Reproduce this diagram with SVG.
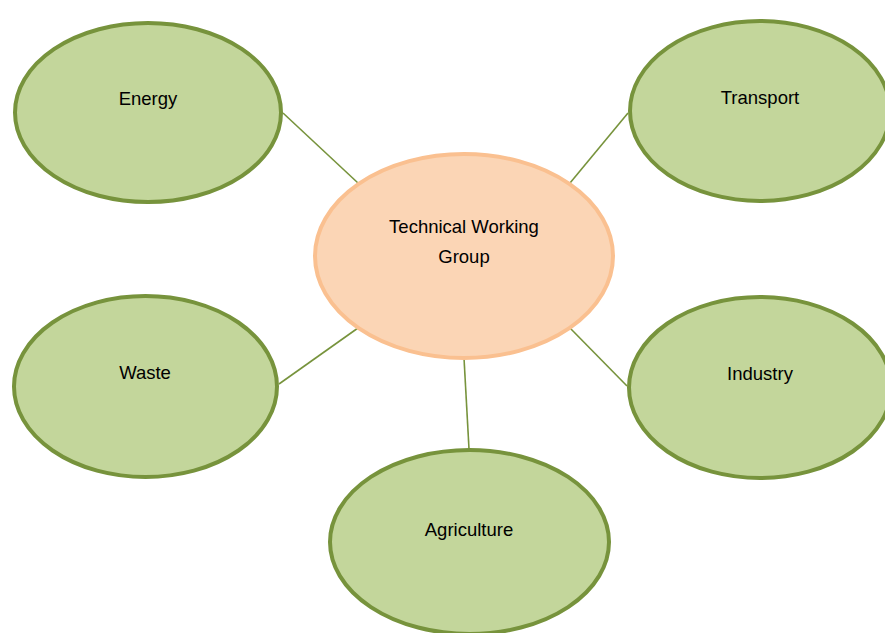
<svg xmlns="http://www.w3.org/2000/svg" width="885" height="633" viewBox="0 0 885 633">
<style>
.sector{fill:#C3D69B;stroke:#77933C;stroke-width:4}
.hub{fill:#FBD5B5;stroke:#FAC090;stroke-width:4}
.lbl{font-family:"Liberation Sans",Arial,sans-serif;font-size:18.5px;fill:#000;text-anchor:middle}
.conn line{stroke:#77933C;stroke-width:1.6}
</style>
<rect width="885" height="633" fill="#fff"/>
<g id="connectors" class="conn">
<line x1="283" y1="113" x2="358" y2="183"/>
<line x1="628" y1="113" x2="570" y2="183"/>
<line x1="279" y1="384" x2="358" y2="328"/>
<line x1="627" y1="386" x2="570" y2="328"/>
<line x1="464" y1="358" x2="469" y2="449"/>
</g>
<g id="energy">
<ellipse class="sector" cx="148" cy="112.5" rx="133" ry="89.5"/>
<text class="lbl" x="148" y="105">Energy</text>
</g>
<g id="transport">
<ellipse class="sector" cx="760" cy="111" rx="130" ry="90"/>
<text class="lbl" x="760" y="104">Transport</text>
</g>
<g id="twg">
<ellipse class="hub" cx="464" cy="256" rx="149" ry="102"/>
<text class="lbl" x="464" y="233">Technical Working</text>
<text class="lbl" x="464" y="263">Group</text>
</g>
<g id="waste">
<ellipse class="sector" cx="145.5" cy="386.5" rx="131.5" ry="90.5"/>
<text class="lbl" x="145" y="379">Waste</text>
</g>
<g id="industry">
<ellipse class="sector" cx="760" cy="387.5" rx="131" ry="90.5"/>
<text class="lbl" x="760" y="380">Industry</text>
</g>
<g id="agriculture">
<ellipse class="sector" cx="469.5" cy="542" rx="139.5" ry="92"/>
<text class="lbl" x="469" y="536">Agriculture</text>
</g>
</svg>
